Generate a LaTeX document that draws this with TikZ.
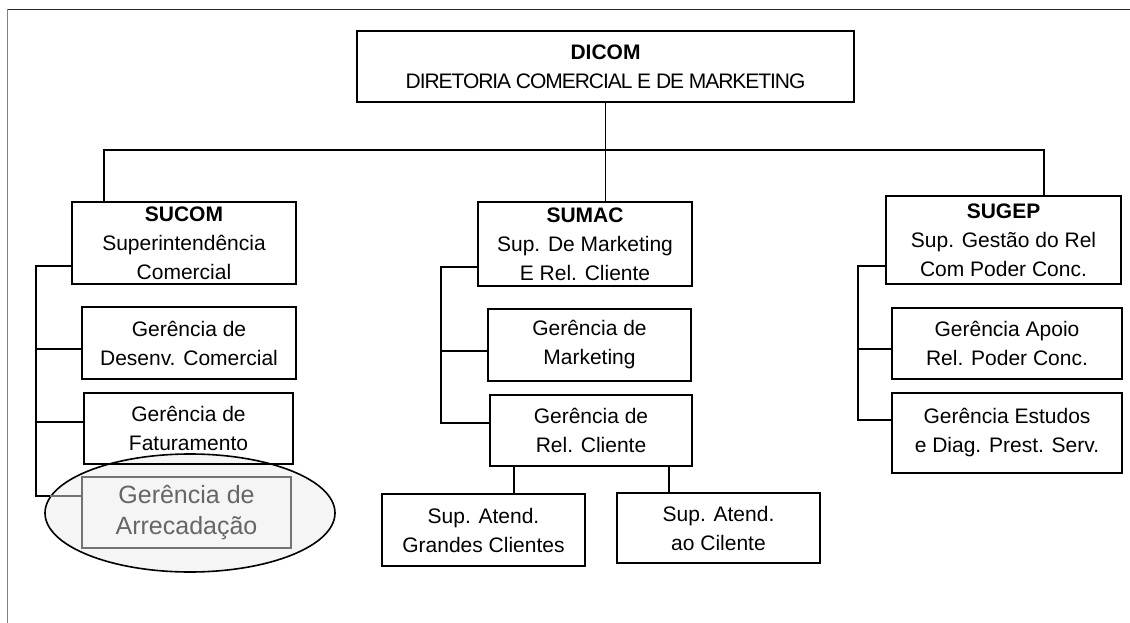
\documentclass[tikz,border=0pt]{standalone}
\usepackage{tikz}
\usepackage{fontspec}
\setmainfont{Liberation Sans}
\usetikzlibrary{calc,shapes.geometric}
\tikzset{
	caixa/.style={draw, line width=1.6pt, align=center, inner sep=0pt, font=\fontsize{21}{29}\selectfont},
	liga/.style={line width=1.6pt},
}

\begin{document}
\begin{tikzpicture}[x=1pt, y=-1pt]
		%%%%% START %%%%%
		\useasboundingbox (0, 0) rectangle (1130, 623);
		
		\draw[line width=1.6pt, color=black!85] (7, 9.5) -- (1130, 9.5);
		\draw[line width=1.6pt, color=black!50] (7.5, 9.5) -- (7.5, 623);
		
		\node[caixa, minimum width=497, minimum height=71] (dicom) at (605.5, 66.5) {\textbf{DICOM}\\{\addfontfeatures{LetterSpace=-5}DIRETORIA COMERCIAL E DE MARKETING}};
		
		\node[caixa, minimum width=224, minimum height=82] (sucom) at (184, 243) {\textbf{SUCOM}\\Superintendência\\Comercial};
		\node[caixa, minimum width=214, minimum height=84] (sumac) at (585, 244) {\textbf{SUMAC}\\Sup. De Marketing\\E Rel. Cliente};
		\node[caixa, minimum width=235, minimum height=88] (sugep) at (1003.5, 240) {\textbf{SUGEP}\\Sup. Gestão do Rel\\Com Poder Conc.};
		
		\coordinate (busL) at (104, 150);
		\coordinate (busR) at (1044, 150);
		\draw[liga] (dicom.south) -- (dicom.south |- sumac.north);
		\draw[liga] (sucom.north -| busL) -- (busL) -- (busR) -- (sugep.north -| busR);
		
		% SUCOM
		\node[ellipse, draw, line width=1.6pt, fill=black!4, minimum width=290, minimum height=118, inner sep=0pt] (hilite) at (190, 513) {};
		\node[caixa, minimum width=214, minimum height=72] (desenv) at (189, 343) {Gerência de\\Desenv. Comercial};
		\node[caixa, minimum width=209, minimum height=71] (fatur) at (188.5, 428.5) {Gerência de\\Faturamento};
		\node[draw=black!55, fill=black!4, line width=1.6pt, align=center, inner sep=0pt, text=black!60, font=\fontsize{25}{31}\selectfont, minimum width=209, minimum height=71] (arrec) at (186.5, 512.5) {Gerência de\\Arrecadação};
		
		\coordinate (sucomT) at (36, 266);
		\draw[liga] (sucom.west |- sucomT) -- (sucomT) |- ($(arrec.west)+(-31,-16.5)$);
		\draw[liga, color=black!55] ($(arrec.west)+(-31,-16.5)$) -- ($(arrec.west)+(0,-16.5)$);
		\draw[liga] (sucomT |- 0, 349) -- ($(desenv.west)+(0,6)$);
		\draw[liga] (sucomT |- 0, 422) -- ($(fatur.west)+(0,-6.5)$);
		
		% SUMAC
		\node[caixa, minimum width=203, minimum height=72] (mkt) at (589.5, 345) {Gerência de\\Marketing};
		\node[caixa, minimum width=202, minimum height=71] (relcli) at (591, 430.5) {Gerência de\\Rel. Cliente};
		\coordinate (sumacT) at (441, 267);
		\draw[liga] (sumac.west |- sumacT) -- (sumacT) |- ($(relcli.west)+(0,-7.5)$);
		\draw[liga] (sumacT |- 0, 351) -- ($(mkt.west)+(0,6)$);
		
		\node[caixa, minimum width=203, minimum height=72] (grandes) at (483.5, 530) {Sup. Atend.\\Grandes Clientes};
		\node[caixa, minimum width=203, minimum height=70] (aocli) at (718.5, 528) {Sup. Atend.\\ao Cilente};
		\draw[liga] ($(grandes.north)+(30.5,0)$) coordinate (g1) -- (g1 |- relcli.south);
		\draw[liga] ($(aocli.north)+(-49.5,0)$) coordinate (a1) -- (a1 |- relcli.south);
		
		% SUGEP
		\node[caixa, minimum width=230, minimum height=71] (apoio) at (1007, 343.5) {Gerência Apoio\\Rel. Poder Conc.};
		\node[caixa, minimum width=230, minimum height=80] (estudos) at (1007, 433) {Gerência Estudos\\e Diag. Prest. Serv.};
		\coordinate (sugepT) at (858, 266);
		\draw[liga] (sugep.west |- sugepT) -- (sugepT) |- ($(estudos.west)+(0,-13)$);
		\draw[liga] (sugepT |- 0, 349) -- ($(apoio.west)+(0,5.5)$);
		
		%%%%% END %%%%%
	\end{tikzpicture}
\end{document}
